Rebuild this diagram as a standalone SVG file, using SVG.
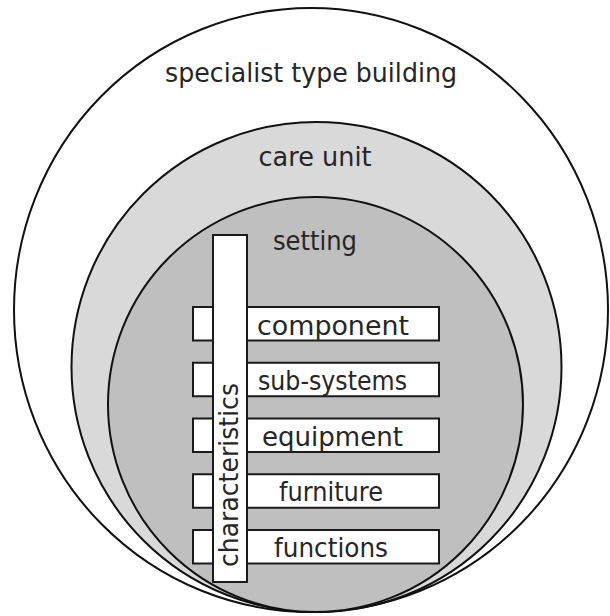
<svg xmlns="http://www.w3.org/2000/svg" width="610" height="616" viewBox="0 0 610 616">
  <style>
    .ring { stroke: #111; stroke-width: 2; }
    .lbl { font-family: "DejaVu Sans", "Liberation Sans", sans-serif; font-size: 26px; fill: #262626; text-anchor: middle; }
    .box { fill: #fff; stroke: #1a1a1a; stroke-width: 2; }
  </style>
  <rect width="610" height="616" fill="#fff"/>
  <g id="specialist-type-building">
    <ellipse class="ring" cx="311" cy="310" rx="297" ry="302" fill="#fff"/>
    <text class="lbl" x="311" y="82" textLength="292" lengthAdjust="spacingAndGlyphs">specialist type building</text>
  </g>
  <g id="care-unit">
    <circle class="ring" cx="316.5" cy="367" r="245" fill="#d9d9d9"/>
    <text class="lbl" x="315" y="166" textLength="113" lengthAdjust="spacingAndGlyphs">care unit</text>
  </g>
  <g id="setting">
    <circle class="ring" cx="315.5" cy="404.5" r="207.5" fill="#bfbfbf"/>
    <text class="lbl" x="315" y="250" textLength="84" lengthAdjust="spacingAndGlyphs">setting</text>
  </g>
  <g id="component">
    <rect class="box" x="193" y="307" width="246" height="33.5"/>
    <text class="lbl" x="333" y="334.5" textLength="152" lengthAdjust="spacingAndGlyphs">component</text>
  </g>
  <g id="sub-systems">
    <rect class="box" x="193" y="362.75" width="246" height="33.5"/>
    <text class="lbl" x="332.5" y="390" textLength="149" lengthAdjust="spacingAndGlyphs">sub-systems</text>
  </g>
  <g id="equipment">
    <rect class="box" x="193" y="418.5" width="246" height="33.5"/>
    <text class="lbl" x="332.5" y="445.5" textLength="141" lengthAdjust="spacingAndGlyphs">equipment</text>
  </g>
  <g id="furniture">
    <rect class="box" x="193" y="474.25" width="246" height="33.5"/>
    <text class="lbl" x="331" y="501" textLength="104" lengthAdjust="spacingAndGlyphs">furniture</text>
  </g>
  <g id="functions">
    <rect class="box" x="193" y="530" width="246" height="33.5"/>
    <text class="lbl" x="331" y="557" textLength="114" lengthAdjust="spacingAndGlyphs">functions</text>
  </g>
  <g id="characteristics">
    <rect class="box" x="213" y="235" width="34" height="347"/>
    <text class="lbl" transform="translate(238,475) rotate(-90)" x="0" y="0" textLength="184" lengthAdjust="spacingAndGlyphs">characteristics</text>
  </g>
  <g id="connectors"/>
</svg>
